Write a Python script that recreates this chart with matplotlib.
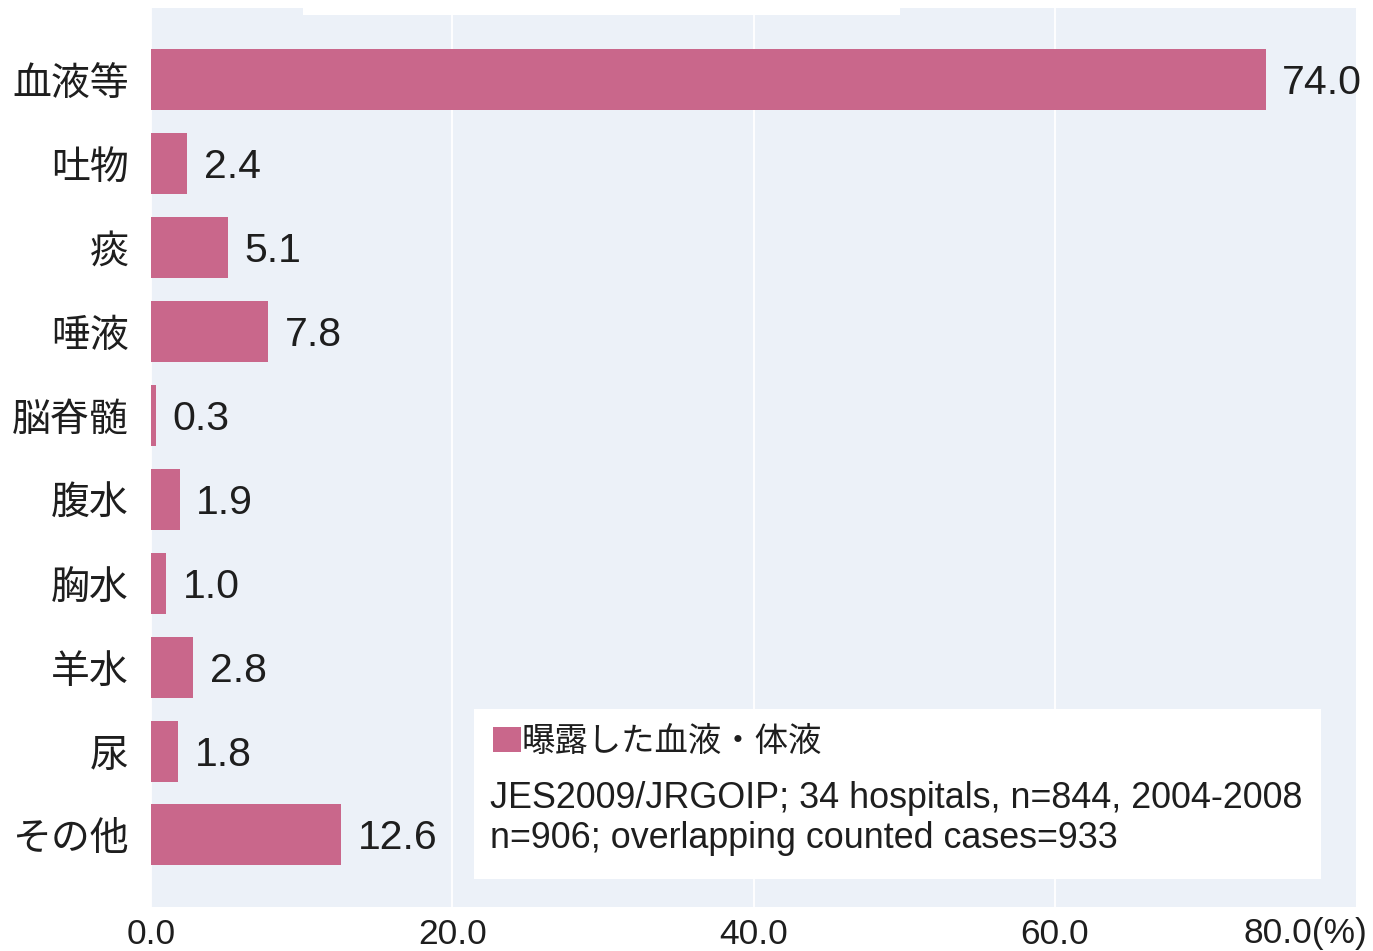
import matplotlib
matplotlib.use("Agg")
import matplotlib.pyplot as plt
from matplotlib.patches import Rectangle

# Exposed blood / body fluid types (%)
categories = ["血液等", "吐物", "痰", "唾液", "脳脊髄", "腹水", "胸水", "羊水", "尿", "その他"]
values = [74.0, 2.4, 5.1, 7.8, 0.3, 1.9, 1.0, 2.8, 1.8, 12.6]
xticks = [0, 20, 40, 60]
xtick_labels = ["0.0", "20.0", "40.0", "60.0"]
last_tick_label = "80.0(%)"
legend_label = "曝露した血液・体液"
note_lines = ["JES2009/JRGOIP; 34 hospitals, n=844, 2004-2008",
              "n=906; overlapping counted cases=933"]

BAR = "#C9678B"
BG = "#ECF1F8"
TXT = "#1E1E1E"
LATIN = ["Liberation Sans", "Noto Sans CJK JP"]
CJK = ["Noto Sans CJK JP", "Liberation Sans"]

W, H = 1373, 951
fig = plt.figure(figsize=(W / 100, H / 100), dpi=100)
fig.patch.set_facecolor("white")

# axes placement in pixels
L, R, T, B = 151, 1356, 8, 907
ax = fig.add_axes([L / W, 1 - B / H, (R - L) / W, (B - T) / H])
ax.set_facecolor(BG)
for s in ax.spines.values():
    s.set_visible(False)

ypos = list(range(len(categories)))
ax.barh(ypos, values, height=0.727, color=BAR, zorder=2)
ax.set_xlim(0, 80)
ax.set_ylim(9.858, -0.852)

ax.set_yticks(ypos)
ax.set_yticklabels(categories, fontsize=28, family=CJK, color=TXT)
ax.tick_params(axis="y", length=0, pad=16)

ax.set_xticks(xticks)
ax.set_xticklabels(xtick_labels, fontsize=25.5, family=LATIN, color=TXT)
ax.tick_params(axis="x", length=0, pad=8)
ax.xaxis.grid(True, color="white", linewidth=1.3, zorder=1)
ax.set_axisbelow(True)
ax.text(1367 / W, 1 - 943 / H, last_tick_label, transform=fig.transFigure,
        ha="right", va="baseline", fontsize=25.5, family=LATIN, color=TXT)

for y, v in zip(ypos, values):
    ax.annotate(f"{v:.1f}", xy=(v, y), xytext=(12, -2.5), textcoords="offset points",
                ha="left", va="center", fontsize=29.5, family=LATIN, color=TXT,
                zorder=4)

# note box with the series key
def ax_frac(px, py):
    return (px - L) / (R - L), (B - py) / (B - T)

bx0, by0 = ax_frac(474, 879)
bx1, by1 = ax_frac(1321, 709)
ax.add_patch(Rectangle((bx0, by0), bx1 - bx0, by1 - by0, transform=ax.transAxes,
                       facecolor="white", edgecolor="none", zorder=3))
sx0, sy0 = ax_frac(493, 752)
sx1, sy1 = ax_frac(521, 727)
ax.add_patch(Rectangle((sx0, sy0), sx1 - sx0, sy1 - sy0, transform=ax.transAxes,
                       facecolor=BAR, edgecolor="none", zorder=4))
tx, ty = ax_frac(522, 741)
ax.text(tx, ty, legend_label, transform=ax.transAxes, ha="left", va="center",
        fontsize=24, family=CJK, color=TXT, zorder=5)
for py, line in zip([799, 839], note_lines):
    nx, ny = ax_frac(490, py)
    ax.text(nx, ny, line, transform=ax.transAxes, ha="left", va="center",
            fontsize=25.8, family=LATIN, color=TXT, zorder=5)

# white title strip at the top edge
fig.add_artist(Rectangle((303 / W, 1 - 15 / H), (900 - 303) / W, 15 / H,
                         transform=fig.transFigure, facecolor="white",
                         edgecolor="none", zorder=5))

fig.savefig("out.png", dpi=100)
